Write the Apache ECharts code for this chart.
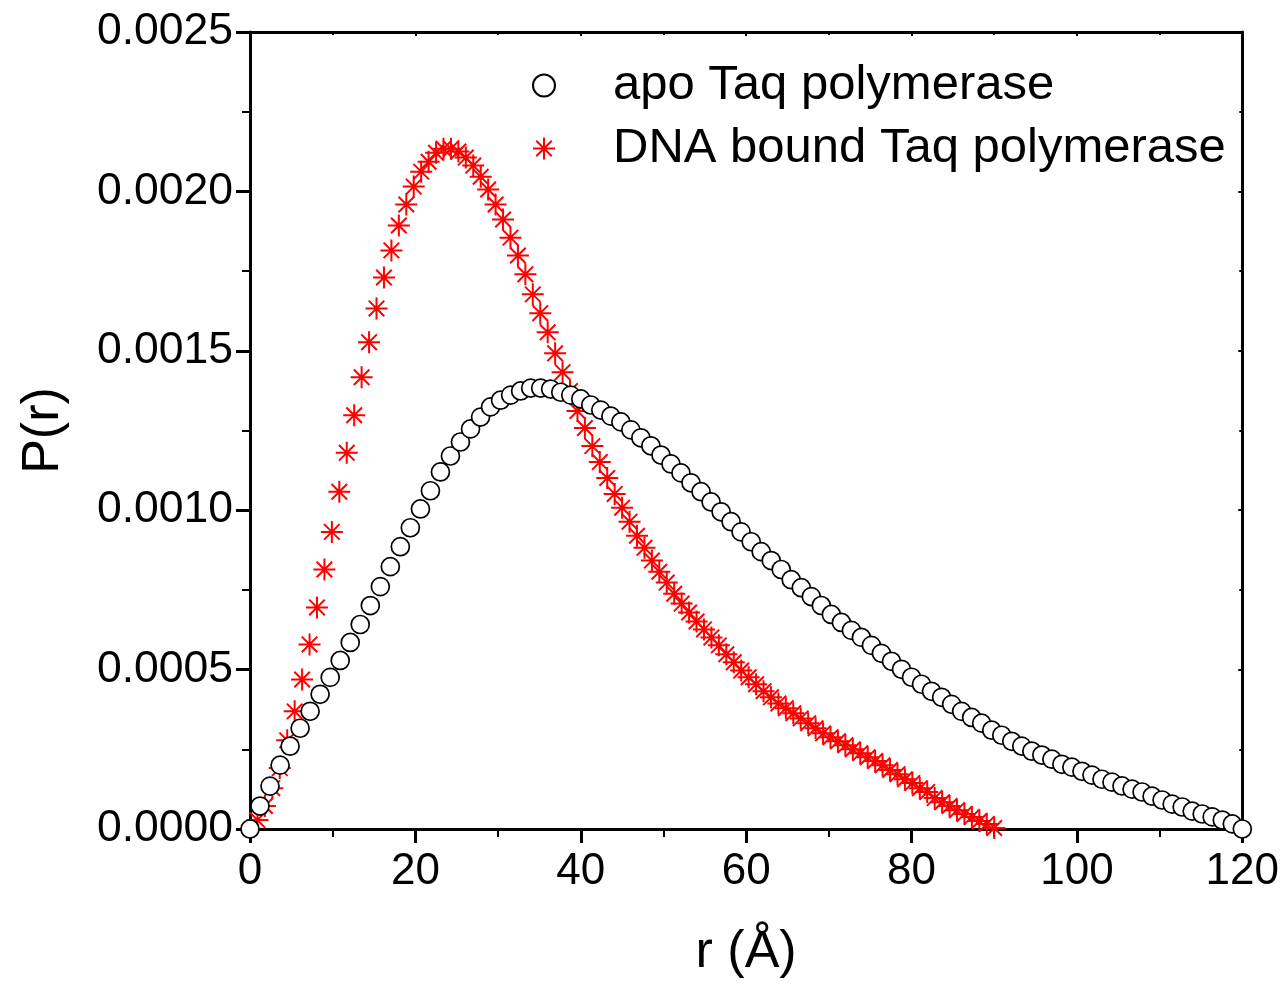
<!DOCTYPE html>
<html>
<head>
<meta charset="utf-8">
<script src="https://cdn.jsdelivr.net/npm/echarts@6/dist/echarts.min.js"></script>
<style>
html,body{margin:0;padding:0;background:#fff;}
#chart{width:1282px;height:984px;}
</style>
</head>
<body>
<div id="chart"></div>
<script>
// ---- data ----
const seriesNames = ['apo Taq polymerase', 'DNA bound Taq polymerase'];

const apoR = [0,1.21,2.42,3.64,4.85,6.06,7.27,8.48,9.70,10.91,12.12,13.33,14.55,15.76,16.97,18.18,19.39,20.61,21.82,23.03,24.24,25.45,26.67,27.88,29.09,30.30,31.52,32.73,33.94,35.15,36.36,37.58,38.79,40.00,41.21,42.42,43.64,44.85,46.06,47.27,48.48,49.70,50.91,52.12,53.33,54.55,55.76,56.97,58.18,59.39,60.61,61.82,63.03,64.24,65.45,66.67,67.88,69.09,70.30,71.52,72.73,73.94,75.15,76.36,77.58,78.79,80.00,81.21,82.42,83.64,84.85,86.06,87.27,88.48,89.70,90.91,92.12,93.33,94.55,95.76,96.97,98.18,99.39,100.61,101.82,103.03,104.24,105.45,106.67,107.88,109.09,110.30,111.52,112.73,113.94,115.15,116.36,117.58,118.79,120.00];
const apoP = [0,0.0000720,0.0001345,0.0002003,0.0002597,0.0003160,0.0003692,0.0004224,0.0004756,0.0005288,0.0005851,0.0006414,0.0007009,0.0007603,0.0008229,0.0008855,0.0009449,0.0010040,0.0010610,0.0011200,0.0011700,0.0012140,0.0012550,0.0012920,0.0013240,0.0013450,0.0013610,0.0013740,0.0013830,0.0013830,0.0013800,0.0013700,0.0013610,0.0013490,0.0013300,0.0013140,0.0012950,0.0012770,0.0012520,0.0012270,0.0012020,0.0011730,0.0011450,0.0011170,0.0010860,0.0010580,0.0010260,0.0009950,0.0009640,0.0009320,0.0009010,0.0008700,0.0008420,0.0008140,0.0007820,0.0007570,0.0007290,0.0007010,0.0006730,0.0006480,0.0006230,0.0006010,0.0005760,0.0005510,0.0005260,0.0005010,0.0004760,0.0004540,0.0004320,0.0004130,0.0003910,0.0003690,0.0003500,0.0003320,0.0003100,0.0002940,0.0002750,0.0002600,0.0002440,0.0002320,0.0002190,0.0002030,0.0001940,0.0001810,0.0001690,0.0001560,0.0001470,0.0001350,0.0001250,0.0001160,0.0001030,0.0000910,0.0000780,0.0000690,0.0000560,0.0000470,0.0000380,0.0000280,0.0000160,0];

const dnaR = [0.9,1.8,2.7,3.6,4.5,5.4,6.3,7.2,8.1,9.0,9.9,10.8,11.7,12.6,13.5,14.4,15.3,16.2,17.1,18.0,18.9,19.8,20.7,21.6,22.5,23.4,24.3,25.2,26.1,27.0,27.9,28.8,29.7,30.6,31.5,32.4,33.3,34.2,35.1,36.0,36.9,37.8,38.7,39.6,40.5,41.4,42.3,43.2,44.1,45.0,45.9,46.8,47.7,48.6,49.5,50.4,51.3,52.2,53.1,54.0,54.9,55.8,56.7,57.6,58.5,59.4,60.3,61.2,62.1,63.0,63.9,64.8,65.7,66.6,67.5,68.4,69.3,70.2,71.1,72.0,72.9,73.8,74.7,75.6,76.5,77.4,78.3,79.2,80.1,81.0,81.9,82.8,83.7,84.6,85.5,86.4,87.3,88.2,89.1,90.0];
const dnaP = [0.0000280,0.0000720,0.0001280,0.0001910,0.0002780,0.0003690,0.0004690,0.0005790,0.0006950,0.0008140,0.0009320,0.0010580,0.0011800,0.0012980,0.0014170,0.0015270,0.0016330,0.0017300,0.0018150,0.0018930,0.0019590,0.0020150,0.0020620,0.0020930,0.0021210,0.0021340,0.0021340,0.0021250,0.0021060,0.0020810,0.0020460,0.0020060,0.0019590,0.0019120,0.0018550,0.0017990,0.0017400,0.0016770,0.0016180,0.0015580,0.0014920,0.0014330,0.0013740,0.0013110,0.0012580,0.0012010,0.0011510,0.0011010,0.0010510,0.0010080,0.0009640,0.0009200,0.0008820,0.0008420,0.0008070,0.0007730,0.0007380,0.0007070,0.0006790,0.0006510,0.0006260,0.0006010,0.0005760,0.0005480,0.0005230,0.0004970,0.0004760,0.0004540,0.0004320,0.0004130,0.0003940,0.0003790,0.0003630,0.0003470,0.0003320,0.0003160,0.0003000,0.0002880,0.0002750,0.0002630,0.0002500,0.0002380,0.0002250,0.0002130,0.0002000,0.0001850,0.0001720,0.0001560,0.0001440,0.0001280,0.0001160,0.0000970,0.0000840,0.0000720,0.0000590,0.0000470,0.0000380,0.0000250,0.0000160,0.0000030];

const xMin = 0, xMax = 120, xStep = 20;
const yMin = 0, yMax = 0.0025, yStep = 0.0005;
const xTitle = 'r (Å)';
const yTitle = 'P(r)';

// ---- chart ----
const FONT = '"Liberation Sans", Arial, sans-serif';
const starPath = 'path://M0,-10L0,10M-10,0L10,0M-7.07,-7.07L7.07,7.07M-7.07,7.07L7.07,-7.07';

function pairs(xs, ys) { return xs.map((x, i) => [x, ys[i]]); }

const chart = echarts.init(document.getElementById('chart'), null, {renderer: 'canvas'});
const axisLineStyle = {color: '#000', width: 3};

chart.setOption({
  backgroundColor: '#fff',
  animation: false,
  grid: {left: 250, top: 32, right: 39, bottom: 153, containLabel: false},
  legend: {
    orient: 'vertical',
    left: 527,
    top: 56,
    padding: 5,
    itemWidth: 22,
    itemHeight: 22,
    itemGap: 14,
    data: [
      {name: seriesNames[0], icon: 'circle'},
      {name: seriesNames[1], icon: starPath}
    ],
    textStyle: {fontFamily: FONT, fontSize: 49, color: '#000', padding: [0, 0, 0, 53]}
  },
  xAxis: [{
    type: 'value', min: xMin, max: xMax, interval: xStep, position: 'bottom',
    name: xTitle, nameLocation: 'middle', nameGap: 98,
    nameTextStyle: {fontFamily: FONT, fontSize: 52, color: '#000'},
    axisLine: {show: true, onZero: false, lineStyle: axisLineStyle},
    axisTick: {show: true, inside: false, length: 14, lineStyle: {color: '#000', width: 3}},
    minorTick: {show: true, splitNumber: 2, length: 8, lineStyle: {color: '#000', width: 2}},
    axisLabel: {fontFamily: FONT, fontSize: 44, color: '#000', margin: 21},
    splitLine: {show: false}
  }, {
    type: 'value', min: xMin, max: xMax, interval: xStep, position: 'top',
    axisLine: {show: true, onZero: false, lineStyle: axisLineStyle},
    axisTick: {show: true, inside: true, length: 4, lineStyle: {color: '#000', width: 2}},
    minorTick: {show: true, splitNumber: 2, length: 3, lineStyle: {color: '#000', width: 2}},
    axisLabel: {show: false},
    splitLine: {show: false}
  }],
  yAxis: [{
    type: 'value', min: yMin, max: yMax, interval: yStep, position: 'left',
    name: yTitle, nameLocation: 'middle', nameGap: 180, nameRotate: 90,
    nameTextStyle: {fontFamily: FONT, fontSize: 52, color: '#000'},
    axisLine: {show: true, onZero: false, lineStyle: axisLineStyle},
    axisTick: {show: true, inside: false, length: 14, lineStyle: {color: '#000', width: 3}},
    minorTick: {show: true, splitNumber: 2, length: 8, lineStyle: {color: '#000', width: 2}},
    axisLabel: {fontFamily: FONT, fontSize: 44.5, color: '#000', margin: 17,
      formatter: v => v.toFixed(4)},
    splitLine: {show: false}
  }, {
    type: 'value', min: yMin, max: yMax, interval: yStep, position: 'right',
    axisLine: {show: true, onZero: false, lineStyle: axisLineStyle},
    axisTick: {show: true, inside: true, length: 4, lineStyle: {color: '#000', width: 2}},
    minorTick: {show: true, splitNumber: 2, length: 3, lineStyle: {color: '#000', width: 2}},
    axisLabel: {show: false},
    splitLine: {show: false}
  }],
  series: [{
    name: seriesNames[1],
    type: 'scatter',
    xAxisIndex: 0, yAxisIndex: 0,
    symbol: starPath,
    symbolSize: 22,
    itemStyle: {color: '#ff0000', borderColor: '#ff0000', borderWidth: 2, opacity: 1},
    data: pairs(dnaR, dnaP),
    z: 2
  }, {
    name: seriesNames[0],
    type: 'scatter',
    xAxisIndex: 0, yAxisIndex: 0,
    symbol: 'circle',
    symbolSize: 18,
    itemStyle: {color: '#ffffff', borderColor: '#000', borderWidth: 1.7, opacity: 1},
    data: pairs(apoR, apoP),
    z: 3
  }]
});
</script>
</body>
</html>
